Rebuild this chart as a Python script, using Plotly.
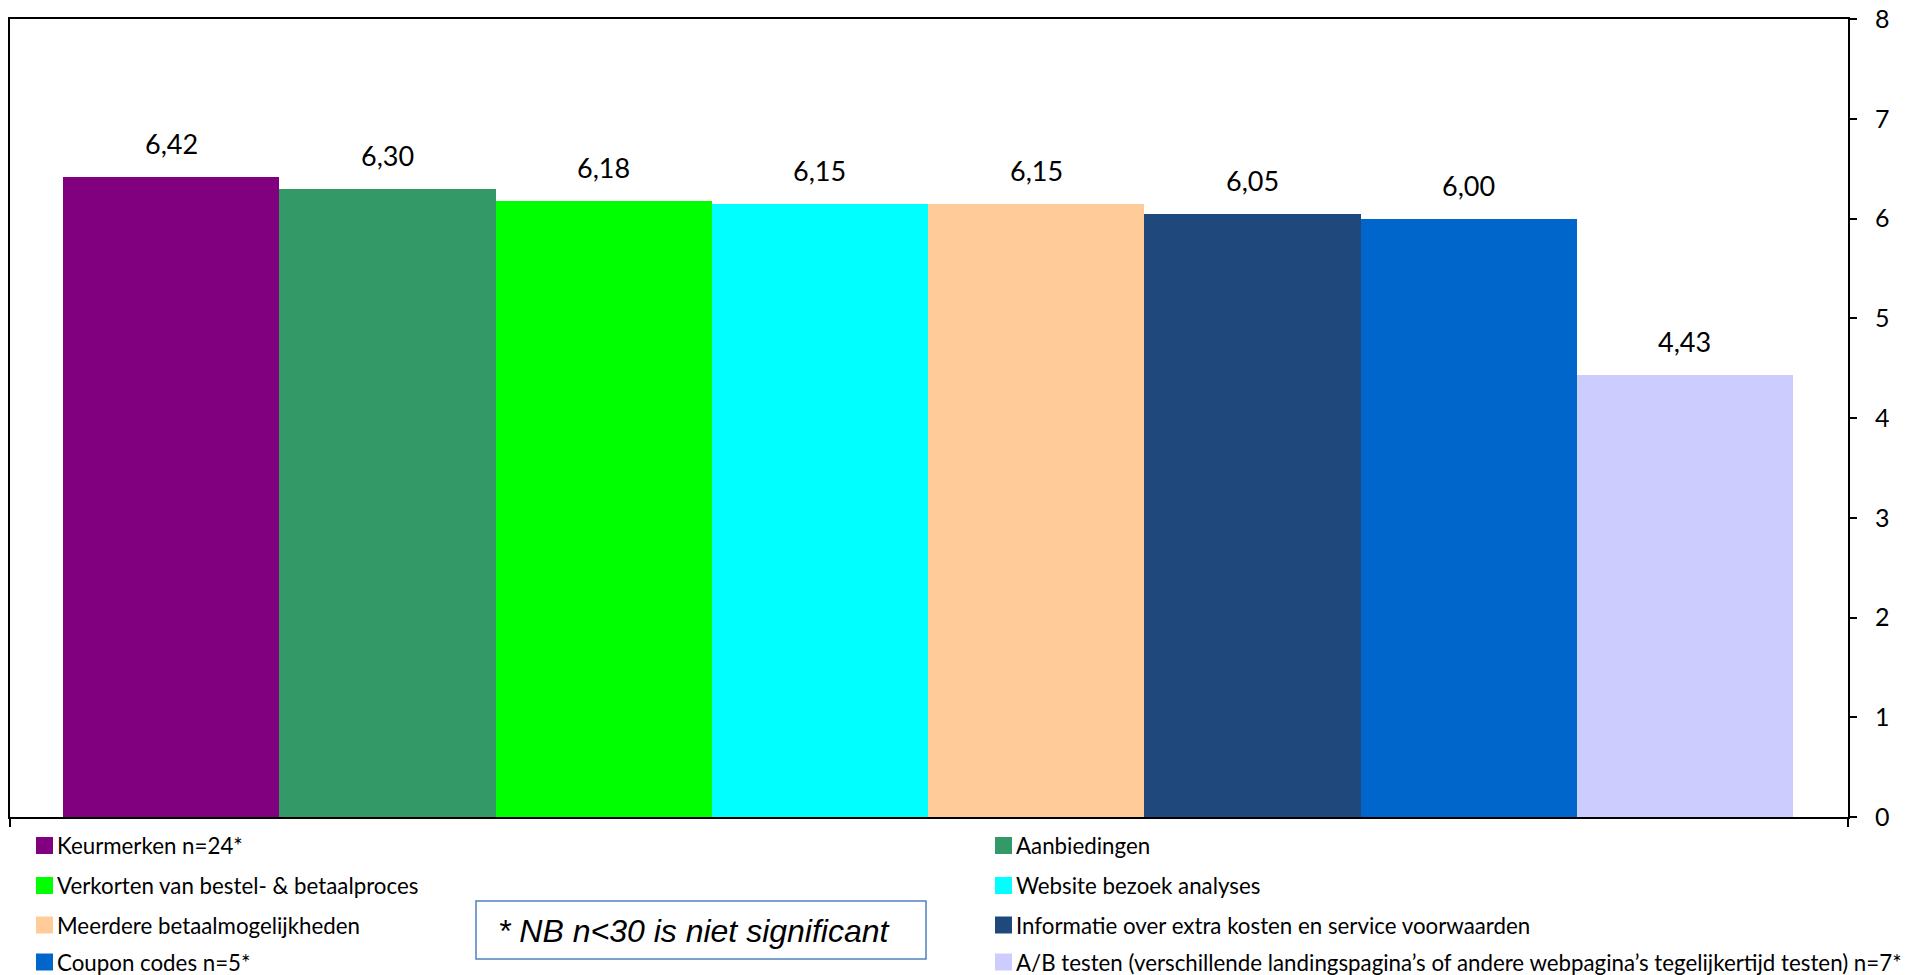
import plotly.graph_objects as go

# Series shown in the chart (average scores, one bar each)
labels = [
    "Keurmerken n=24*",
    "Aanbiedingen",
    "Verkorten van bestel- & betaalproces",
    "Website bezoek analyses",
    "Meerdere betaalmogelijkheden",
    "Informatie over extra kosten en service voorwaarden",
    "Coupon codes n=5*",
    "A/B testen (verschillende landingspagina’s of andere webpagina’s tegelijkertijd testen) n=7*",
]
values = [6.42, 6.30, 6.18, 6.15, 6.15, 6.05, 6.00, 4.43]
colors = ["#800080", "#339966", "#00FF00", "#00FFFF", "#FFCC99", "#1F497D", "#0066CC", "#CCCCFF"]
y_ticks = [0, 1, 2, 3, 4, 5, 6, 7, 8]
note_text = "* NB n<30 is niet significant"

W, H = 1911, 975
L, R, T, B = 10, 1848, 19, 817  # plot area in pixels


def px_x(px):
    return (px - L) / (R - L)


def px_y(py):
    return (B - py) / (B - T)


def fmt(v):
    return f"{v:.2f}".replace(".", ",")


fig = go.Figure()
for i, (name, v, c) in enumerate(zip(labels, values, colors)):
    fig.add_trace(go.Bar(x=[i], y=[v], name=name, marker=dict(color=c, line=dict(width=0)),
                         width=1.0, showlegend=False, hoverinfo="name+y"))
    fig.add_annotation(x=i, y=v, xref="x", yref="y", text=fmt(v), showarrow=False,
                       yanchor="bottom", yshift=15,
                       font=dict(family="Lato", size=27, color="#000000"))

# two-column legend below the plot
leg_cols_sq = [36, 995]
leg_rows = [845.5, 885.5, 925, 962]
sq = 17
for k, (name, c) in enumerate(zip(labels, colors)):
    col, row = k % 2, k // 2
    x0 = leg_cols_sq[col]
    yc = leg_rows[row]
    fig.add_shape(type="rect", xref="paper", yref="paper",
                  x0=px_x(x0), x1=px_x(x0 + sq), y0=px_y(yc + sq / 2), y1=px_y(yc - sq / 2),
                  fillcolor=c, line=dict(width=0))
    fig.add_annotation(xref="paper", yref="paper", x=px_x(x0 + sq + 2), y=px_y(yc),
                       xanchor="left", yanchor="middle", text=name, showarrow=False,
                       font=dict(family="Lato", size=22.3, color="#000000"))

# note box
fig.add_shape(type="rect", xref="paper", yref="paper",
              x0=px_x(476), x1=px_x(926), y0=px_y(959), y1=px_y(901),
              line=dict(color="#4F81BD", width=1.5), fillcolor="rgba(0,0,0,0)")
fig.add_annotation(xref="paper", yref="paper", x=px_x(694), y=px_y(931),
                   xanchor="center", yanchor="middle", text=f"<i>{note_text}</i>",
                   showarrow=False,
                   font=dict(family="Liberation Sans, Arial", size=32, color="#000000"))

fig.update_layout(
    width=W, height=H,
    margin=dict(l=L, r=W - R, t=T, b=H - B, pad=0, autoexpand=False),
    paper_bgcolor="white", plot_bgcolor="white",
    bargap=0, showlegend=False,
    font=dict(family="Lato", color="#000000"),
)
fig.update_xaxes(range=[-0.745, 7.754], showgrid=False, zeroline=False, automargin=False,
                 showline=True, linecolor="#000000", linewidth=2, mirror=True,
                 tickmode="array", tickvals=[-0.745, 7.754], ticks="outside",
                 ticklen=8, tickwidth=2, tickcolor="#000000", showticklabels=False)
fig.update_yaxes(range=[0, 8], side="right", showgrid=False, zeroline=False, automargin=False,
                 showline=True, linecolor="#000000", linewidth=2, mirror=True,
                 tickmode="array", tickvals=y_ticks, ticks="outside", ticklen=7,
                 tickwidth=2, tickcolor="#000000", ticklabelstandoff=13,
                 tickfont=dict(family="Lato", size=25, color="#000000"))

fig.write_html("out.html")
